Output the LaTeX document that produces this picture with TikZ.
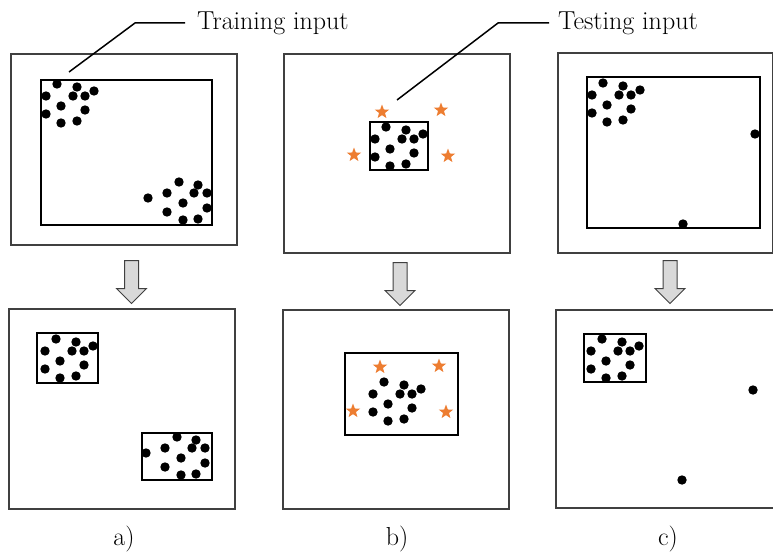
\documentclass[tikz,border=0pt]{standalone}
\usetikzlibrary{positioning,fit,shapes.geometric,shapes.arrows}

\definecolor{starorange}{HTML}{ED7D31}
\definecolor{framegray}{HTML}{404040}
\definecolor{arrowgray}{HTML}{D9D9D9}

% the two point clouds, given by their first point
\newcommand{\cloudA}[2]{%
  \foreach \dx/\dy in {0/0,20/3,37/7,-11/12,16/12,28/12,4/22,28/26,-11/30,4/39,20/37}
    \fill ([shift={(\dx,\dy)}]#1,#2) circle (4.7pt);}
\newcommand{\cloudB}[2]{%
  \foreach \dx/\dy in {0/0,19/3,-31/16,-12/11,15/11,28/11,4/21,28/26,-12/30,4/38,19/37}
    \fill ([shift={(\dx,\dy)}]#1,#2) circle (4.7pt);}

\begin{document}
\begin{tikzpicture}[x=1pt, y=-1pt,
  frame/.style={draw=framegray, line width=1.1pt, inner sep=0pt},
  roi/.style={draw=black, line width=2.2pt, inner sep=0pt},
  starmark/.style={star, star points=5, star point ratio=2.4, fill=starorange, inner sep=0pt, minimum size=15pt},
  blockarrow/.style={single arrow, draw=framegray, fill=arrowgray, line width=1pt, rotate=-90,
    minimum height=43pt, inner xsep=0pt, inner ysep=6.5pt, single arrow head extend=8pt},
  lbl/.style={font=\fontsize{26}{30}\selectfont, inner sep=0pt},
  leader/.style={draw=black, line width=1.5pt}]
	\useasboundingbox (0,0) rectangle (773,551);

	% upper row
	\node[frame, fit={(11,54) (237,245)}] (inA) {};
	\node[roi, fit={(41,80) (212,225)}] (roiA) {};
	\node[frame, fit={(284,54) (510,253)}] (inB) {};
	\node[roi, fit={(370,122) (428,170)}] (roiB) {};
	\node[frame, fit={(558,53) (773,253)}] (inC) {};
	\node[roi, fit={(587,77) (760,228)}] (roiC) {};

	\cloudA{57}{84}
	\cloudB{179}{182}
	\cloudA{386}{127}
	\cloudA{603}{83}
	\fill (755,134) circle (4.7pt);
	\fill (683,224) circle (4.7pt);
	\foreach \x/\y [count=\i] in {382/112, 441/110, 354/155, 448/156}
		\node[starmark] (st\i) at (\x,\y) {};

	% arrows
	\node[blockarrow, anchor=tail] (arrA) at (131.5,260) {};
	\node[blockarrow, anchor=tail] (arrB) at (400,262) {};
	\node[blockarrow, anchor=tail] (arrC) at (670,260) {};

	% lower row
	\node[frame, fit={(9,309) (235,509)}] (outA) {};
	\node[roi, fit={(37,333) (98,383)}] (boxA1) {};
	\node[roi, fit={(142,433) (212,480)}] (boxA2) {};
	\node[frame, fit={(283,310) (509,509)}] (outB) {};
	\node[roi, fit={(345,353) (458,435)}] (boxB) {};
	\node[frame, fit={(556,310) (776,508)}] (outC) {};
	\node[roi, fit={(584,334) (646,382)}] (boxC) {};

	\cloudA{56}{339}
	\cloudB{177}{437}
	\cloudA{384}{382}
	\cloudA{602}{339}
	\fill (753,390) circle (4.7pt);
	\fill (682,480) circle (4.7pt);
	\foreach \x/\y [count=\i from 5] in {380/367, 439/366, 353/411, 446/412}
		\node[starmark] (st\i) at (\x,\y) {};

	% labels
	\node[lbl, anchor=west] (train) at (197,23) {Training input};
	\node[lbl, anchor=west] (test) at (558,23) {Testing input};
	\coordinate (trainbend) at (135,23);
	\coordinate (traintip) at (69,72);
	\coordinate (testbend) at (498,23);
	\coordinate (testtip) at (397,100);
	\draw[leader] ([xshift=-12pt]train.west) -- (trainbend |- train.west) -- (traintip);
	\draw[leader] ([xshift=-9pt]test.west) -- (testbend |- test.west) -- (testtip);

	\node[lbl] (capA) at (124,539) {a)};
	\node[lbl] (capB) at (397,539) {b)};
	\node[lbl] (capC) at (668,539) {c)};
\end{tikzpicture}
\end{document}
